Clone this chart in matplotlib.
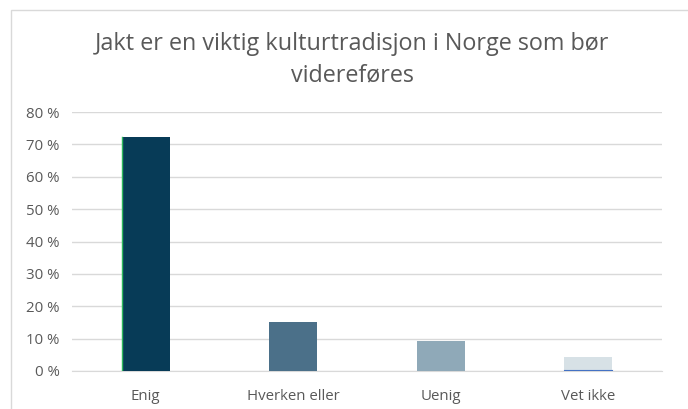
import matplotlib.pyplot as plt
from matplotlib.patches import Rectangle
from matplotlib.ticker import FuncFormatter

# Data
categories = ["Enig", "Hverken eller", "Uenig", "Vet ikke"]
values = [72.2, 15.1, 9.3, 4.3]
colors = ["#073B57", "#4B7089", "#8FA9B8", "#D7E1E6"]
title = "Jakt er en viktig kulturtradisjon i Norge som bør\nvidereføres"

plt.rcParams['font.family'] = ['Open Sans', 'DejaVu Sans']

fig = plt.figure(figsize=(6.88, 4.09), dpi=100)
ax = fig.add_axes([72 / 688, 1 - 371 / 409, 590 / 688, 259 / 409])

x = range(len(categories))
bars = ax.bar(x, values, width=0.325, color=colors, zorder=3)

# little accent lines seen on the original bars
b0 = bars[0]
ax.plot([b0.get_x(), b0.get_x()], [0, values[0]], color="#2EB85C", lw=1, zorder=4)
b3 = bars[3]
ax.plot([b3.get_x(), b3.get_x() + b3.get_width()], [0.3, 0.3], color="#4472C4", lw=0.8, zorder=4)

ax.set_xlim(-0.5, len(categories) - 0.5)
ax.set_ylim(0, 80)
ax.set_yticks(range(0, 81, 10))
ax.yaxis.set_major_formatter(FuncFormatter(lambda v, p: f"{int(v)} %"))
ax.set_xticks(list(x))
ax.set_xticklabels(categories)

ax.grid(axis='y', color="#D9D9D9", lw=1, zorder=0)
for s in ["top", "right", "left"]:
    ax.spines[s].set_visible(False)
ax.spines["bottom"].set_color("#D9D9D9")
ax.tick_params(axis='both', length=0, labelsize=10.8, colors="#595959")
ax.tick_params(axis='x', pad=13)
ax.tick_params(axis='y', pad=9)

fig.text(352 / 688, 1 - 60 / 409, title, ha='center', va='center', fontsize=16.8,
         color="#595959", linespacing=1.4)

# chart border (partly cut off in the original)
fig.patches.append(Rectangle((11 / 688, -0.1), 1.1, 1 - 10 / 409 + 0.1,
                             transform=fig.transFigure, fill=False,
                             edgecolor="#D9D9D9", lw=1))

fig.savefig("out.png", dpi=100)
